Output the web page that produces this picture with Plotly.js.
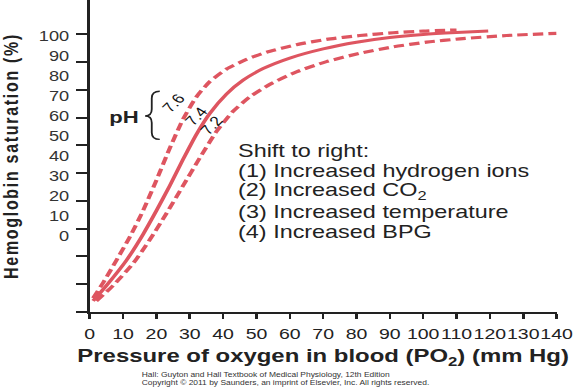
<!DOCTYPE html>
<html>
<head>
<meta charset="utf-8">
<script src="https://cdn.plot.ly/plotly-3.0.1.min.js"></script>
<style>
  html, body { margin: 0; padding: 0; background: #fff; overflow: hidden; }
  #chart { width: 446px; height: 387px; transform: scaleX(1.3004); transform-origin: 0 0; }
  #chart .g-ytitle text { letter-spacing: 1.7px; }
</style>
</head>
<body>
<div id="chart"></div>
<script>
// ---- Data ----
// pH 7.4 (solid, normal curve)
const po2_ph74 = [1, 5, 11, 16, 20, 24, 28, 32, 36, 41, 46, 52, 60, 70, 80, 90, 100, 110, 119.5];
const sat_ph74 = [4, 9.5, 18.6, 28, 36.5, 45.5, 55, 64, 71.5, 78.5, 83.5, 87.7, 91.5, 94.8, 97.2, 98.9, 100, 100.7, 101.2];
// pH 7.6 (dashed, left shift)
const po2_ph76 = [1, 4, 8, 12, 16, 20, 24, 28, 32, 36, 41, 47, 53, 62, 71, 81, 91, 100, 110];
const sat_ph76 = [5, 10.5, 18.6, 27, 36.5, 47.5, 59, 69.5, 77.5, 83, 87.5, 91, 93.6, 96.3, 98.2, 99.6, 100.6, 101.2, 101.6];
// pH 7.2 (dashed, right shift)
const po2_ph72 = [2, 7, 13, 18, 23, 28, 33, 38, 43, 48, 54, 62, 71, 81, 91, 101, 111, 125, 140];
const sat_ph72 = [4, 9.5, 17.5, 26, 35.5, 45.5, 55.5, 65, 72.3, 77.5, 82, 86.5, 90.2, 93.2, 95.5, 97.2, 98.4, 99.6, 100.4];

const xTicks = [0, 10, 20, 30, 40, 50, 60, 70, 80, 90, 100, 110, 120, 130, 140];
const yTicks = [0, 10, 20, 30, 40, 50, 60, 70, 80, 90, 100];
const phLabels = ["7.6", "7.4", "7.2"];
const shiftLines = [
  "Shift to right:",
  "(1) Increased hydrogen ions",
  "(2) Increased CO<sub>2</sub>",
  "(3) Increased temperature",
  "(4) Increased BPG"
];
const creditLines = [
  "Hall: Guyton and Hall Textbook of Medical Physiology, 12th Edition",
  "Copyright © 2011 by Saunders, an imprint of Elsevier, Inc. All rights reserved."
];

// ---- Styling ----
const RED = "#de5560";
const INK = "#222222";
const FONT = "Liberation Sans, Arial, Helvetica, sans-serif";

const traces = [
  { x: po2_ph76, y: sat_ph76, mode: "lines", line: { color: RED, width: 3.2, dash: "8px,4px", shape: "spline", smoothing: 0.6 }, hoverinfo: "skip", showlegend: false },
  { x: po2_ph72, y: sat_ph72, mode: "lines", line: { color: RED, width: 3.2, dash: "8px,4px", shape: "spline", smoothing: 0.6 }, hoverinfo: "skip", showlegend: false },
  { x: po2_ph74, y: sat_ph74, mode: "lines", line: { color: RED, width: 3, shape: "spline", smoothing: 0.6 }, hoverinfo: "skip", showlegend: false },
  // empty trace that only attaches the label axis (y2)
  { x: [], y: [], yaxis: "y2", mode: "lines", hoverinfo: "skip", showlegend: false }
];

// label positions along the curves (data coordinates)
const phPos = [[25, 75.2], [32, 70.3], [36.5, 67.3]];
const annotations = [];
phLabels.forEach((t, i) => {
  annotations.push({ x: phPos[i][0], y: phPos[i][1], xref: "x", yref: "y", text: t, showarrow: false,
    textangle: -52, font: { family: FONT, size: 13.5, color: "#111" } });
});
annotations.push({ x: 10.5, y: 70.2, xref: "x", yref: "y", text: "<b>pH</b>", showarrow: false,
  font: { family: FONT, size: 17, color: INK } });
shiftLines.forEach((t, i) => {
  annotations.push({ x: 43.8, y: 57.9 - i * 7.25, xref: "x", yref: "y", text: t, showarrow: false,
    xanchor: "left", yanchor: "middle", font: { family: FONT, size: 18, color: INK } });
});
annotations.push({ x: 0.107, y: 0, xref: "paper", yref: "paper", text: creditLines.join("<br>"), showarrow: false,
  xanchor: "left", yanchor: "middle", align: "left", yshift: -67, font: { family: FONT, size: 6.5, color: "#333" } });

const layout = {
  width: 446, height: 387,
  margin: { l: 69.2, r: 17.9, t: 0, b: 75.3, pad: 0 },
  paper_bgcolor: "#fff", plot_bgcolor: "#fff",
  font: { family: FONT, color: INK },
  xaxis: {
    range: [0, 140], tickvals: xTicks, ticktext: xTicks.map(String), tickangle: 0,
    ticks: "outside", ticklen: 5, tickwidth: 2, tickcolor: INK, ticklabelstandoff: 2,
    showline: true, linewidth: 2, linecolor: INK, showgrid: false, zeroline: false,
    tickfont: { family: FONT, size: 15, color: INK },
    title: { text: "<b>Pressure of oxygen in blood (PO<sub>2</sub>) (mm Hg)</b>", font: { family: FONT, size: 18.4, color: INK }, standoff: 8 }
  },
  yaxis: {
    range: [0, 112.4], tickvals: yTicks, showticklabels: false,
    ticks: "outside", ticklen: 8.5, tickwidth: 2, tickcolor: INK,
    showline: true, linewidth: 2, linecolor: INK, showgrid: false, zeroline: false,
    title: { text: "<b>Hemoglobin saturation (%)</b>", font: { family: FONT, size: 16, color: INK }, standoff: 45 }
  },
  yaxis2: {
    overlaying: "y", side: "left", range: [-38, 117.85],
    tickvals: yTicks, ticktext: yTicks.map(String),
    ticks: "outside", ticklen: 12, tickcolor: "rgba(0,0,0,0)",
    showline: false, showgrid: false, zeroline: false,
    tickfont: { family: FONT, size: 14, color: "#333" }
  },
  shapes: [{
    type: "path", xref: "x", yref: "y",
    path: "M 21,79.5 Q 18.6,79.5 18.6,77 L 18.6,73 Q 18.6,70.6 16.6,70.6 Q 18.6,70.6 18.6,68.2 L 18.6,64.7 Q 18.6,62.2 21,62.2",
    line: { color: INK, width: 1.4 }
  }],
  annotations: annotations
};

Plotly.newPlot("chart", traces, layout, { staticPlot: true, displayModeBar: false });
</script>
</body>
</html>
